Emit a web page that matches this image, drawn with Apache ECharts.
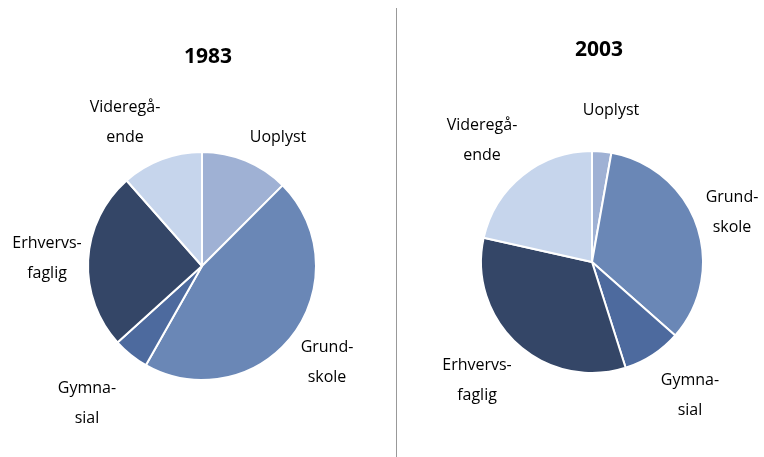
<!DOCTYPE html>
<html><head><meta charset="utf-8">
<script src="https://cdn.jsdelivr.net/npm/echarts@6/dist/echarts.min.js"></script>
<style>html,body{margin:0;padding:0;background:#fff}#c{width:764px;height:457px}</style>
</head><body><div id="c"></div>
<script>
var categories = ['Uoplyst', 'Grundskole', 'Gymnasial', 'Erhvervsfaglig', 'Videregående'];
var labels = ['Uoplyst', 'Grund-\nskole', 'Gymna-\nsial', 'Erhvervs-\nfaglig', 'Videregå-\nende'];
var values1983 = [12.5, 45.7, 5.1, 25.2, 11.5];
var values2003 = [2.8, 33.7, 8.6, 33.4, 21.5];
var colors = ['#9fb1d4', '#6a87b6', '#4d6a9e', '#344667', '#c6d5ec'];
var labelPos1983 = [[278,137],[327,362],[87,403],[47,258],[125,122]];
var labelPos2003 = [[611,110],[732,212],[690,395],[477,380],[482,140]];
var font = 'Open Sans';

function mk(vals, center, r, pos) {
  return {
    type: 'pie', center: center, radius: r, startAngle: 90, clockwise: true,
    avoidLabelOverlap: false, silent: true,
    itemStyle: { borderColor: '#fff', borderWidth: 2 },
    label: { show: true, position: 'outside', formatter: function(p){ return labels[p.dataIndex]; },
      color: '#000', fontFamily: font, fontSize: 16, lineHeight: 30, align: 'center' },
    labelLine: { show: false },
    labelLayout: function(p){ var q = pos[p.dataIndex]; return { x: q[0], y: q[1], align: 'center', verticalAlign: 'middle' }; },
    data: vals.map(function(v,i){ return { name: categories[i], value: v, itemStyle: { color: colors[i] } }; })
  };
}
var chart = echarts.init(document.getElementById('c'));
chart.setOption({
  animation: false,
  title: [
    { text: '1983', left: 203, top: 42, textAlign: 'center', textStyle: { fontFamily: font, fontSize: 21, fontWeight: 'bold', color: '#000' } },
    { text: '2003', left: 594, top: 35, textAlign: 'center', textStyle: { fontFamily: font, fontSize: 21, fontWeight: 'bold', color: '#000' } }
  ],
  graphic: [{ type: 'line', shape: { x1: 396.5, y1: 8, x2: 396.5, y2: 457 }, style: { stroke: '#999', lineWidth: 1 } }],
  series: [ mk(values1983, [202,266], 114, labelPos1983), mk(values2003, [592,262], 111, labelPos2003) ]
});
</script></body></html>
